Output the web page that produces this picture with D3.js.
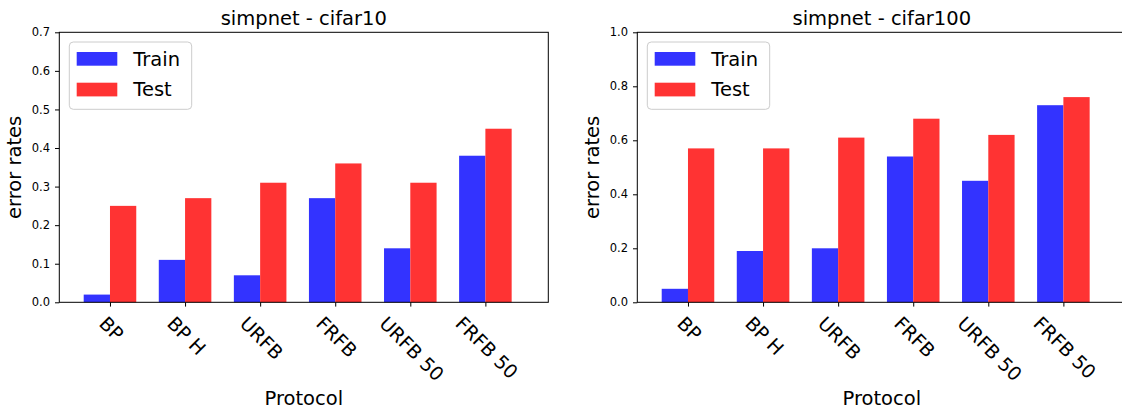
<!DOCTYPE html>
<html>
<head>
<meta charset="utf-8">
<script src="https://cdn.jsdelivr.net/npm/d3@7"></script>
<style>
  html, body { margin: 0; padding: 0; background: #fff; }
  svg { display: block; font-family: "DejaVu Sans", sans-serif; }
</style>
</head>
<body>
<svg id="chart" width="1122" height="409"></svg>
<script>
const categories = ["BP", "BP H", "URFB", "FRFB", "URFB 50", "FRFB 50"];
const seriesNames = ["Train", "Test"];
const trainCifar10 = [0.02, 0.11, 0.07, 0.27, 0.14, 0.38];
const testCifar10 = [0.25, 0.27, 0.31, 0.36, 0.31, 0.45];
const trainCifar100 = [0.05, 0.19, 0.20, 0.54, 0.45, 0.73];
const testCifar100 = [0.57, 0.57, 0.61, 0.68, 0.62, 0.76];
const yTicksCifar10 = [0.0, 0.1, 0.2, 0.3, 0.4, 0.5, 0.6, 0.7];
const yTicksCifar100 = [0.0, 0.2, 0.4, 0.6, 0.8, 1.0];
const titles = ["simpnet - cifar10", "simpnet - cifar100"];
const yLabel = "error rates";
const xLabel = "Protocol";

const colors = ["#3333ff", "#ff3333"];
const svg = d3.select("#chart");

const plotTop = 32.3, plotBottom = 302.3, plotWidth = 489;
const barWidth = 0.35;
const bigFont = 19.5, tickFont = 11.5, xTickFont = 19;

function panel(left, title, train, test, yMax, yTicks) {
  const g = svg.append("g");
  const x = d3.scaleLinear().domain([-0.675, 5.838]).range([left, left + plotWidth]);
  const y = d3.scaleLinear().domain([0, yMax]).range([plotBottom, plotTop]);

  // bars
  const idx = d3.range(categories.length);
  g.selectAll("rect.train").data(idx).join("rect")
    .attr("class", "train")
    .attr("x", i => x(i - barWidth))
    .attr("width", i => x(i) - x(i - barWidth))
    .attr("y", i => y(train[i]))
    .attr("height", i => y(0) - y(train[i]))
    .attr("fill", colors[0]);
  g.selectAll("rect.test").data(idx).join("rect")
    .attr("class", "test")
    .attr("x", i => x(i))
    .attr("width", i => x(i + barWidth) - x(i))
    .attr("y", i => y(test[i]))
    .attr("height", i => y(0) - y(test[i]))
    .attr("fill", colors[1]);

  // y axis
  const ya = g.append("g").attr("transform", `translate(${left},0)`)
    .call(d3.axisLeft(y).tickValues(yTicks).tickFormat(d3.format(".1f")).tickSize(4.3).tickPadding(5));
  ya.select(".domain").remove();
  ya.selectAll("text").attr("font-size", tickFont).attr("font-family", "DejaVu Sans").attr("fill", "#000");
  ya.selectAll("line").attr("stroke", "#000");

  // x axis ticks
  const xa = g.append("g").attr("transform", `translate(0,${plotBottom})`)
    .call(d3.axisBottom(x).tickValues(idx).tickSize(4.3).tickFormat(""));
  xa.select(".domain").remove();
  xa.selectAll("line").attr("stroke", "#000");

  // rotated x tick labels
  idx.forEach(i => {
    const t = g.append("text")
      .attr("font-size", xTickFont)
      .attr("text-anchor", "middle")
      .attr("dy", "0.36em")
      .attr("fill", "#000")
      .text(categories[i]);
    const L = t.node().getComputedTextLength();
    const half = (L + 0.73 * xTickFont) / (2 * Math.SQRT2);
    const cx = x(i) + 1.5;
    const cy = 315 + half;
    t.attr("transform", `translate(${cx},${cy}) rotate(45)`);
  });

  // frame
  g.append("rect")
    .attr("x", left).attr("y", plotTop)
    .attr("width", plotWidth).attr("height", plotBottom - plotTop)
    .attr("fill", "none").attr("stroke", "#000").attr("stroke-width", 1);

  // title
  g.append("text")
    .attr("x", left + plotWidth / 2).attr("y", 25)
    .attr("text-anchor", "middle").attr("font-size", bigFont).attr("fill", "#000")
    .text(title);

  // y label
  g.append("text")
    .attr("transform", `translate(${left - 37.9},${(plotTop + plotBottom) / 2}) rotate(-90)`)
    .attr("text-anchor", "middle").attr("font-size", bigFont).attr("fill", "#000")
    .text(yLabel);

  // x label
  g.append("text")
    .attr("x", left + plotWidth / 2).attr("y", 405)
    .attr("text-anchor", "middle").attr("font-size", bigFont).attr("fill", "#000")
    .text(xLabel);

  // legend
  const lg = g.append("g").attr("transform", `translate(${left + 10},42)`);
  lg.append("rect")
    .attr("width", 122.4).attr("height", 67.3).attr("rx", 4)
    .attr("fill", "#fff").attr("fill-opacity", 0.8)
    .attr("stroke", "#cccccc").attr("stroke-width", 1);
  seriesNames.forEach((name, k) => {
    lg.append("rect")
      .attr("x", 7.4).attr("y", 10 + k * 30.7)
      .attr("width", 40.6).attr("height", 13.7)
      .attr("fill", colors[k]);
    lg.append("text")
      .attr("x", 64).attr("y", 23.7 + k * 30.3)
      .attr("font-size", bigFont).attr("fill", "#000")
      .text(name);
  });
}

panel(59.3, titles[0], trainCifar10, testCifar10, 0.7, yTicksCifar10);
panel(637.3, titles[1], trainCifar100, testCifar100, 1.0, yTicksCifar100);
</script>
</body>
</html>
